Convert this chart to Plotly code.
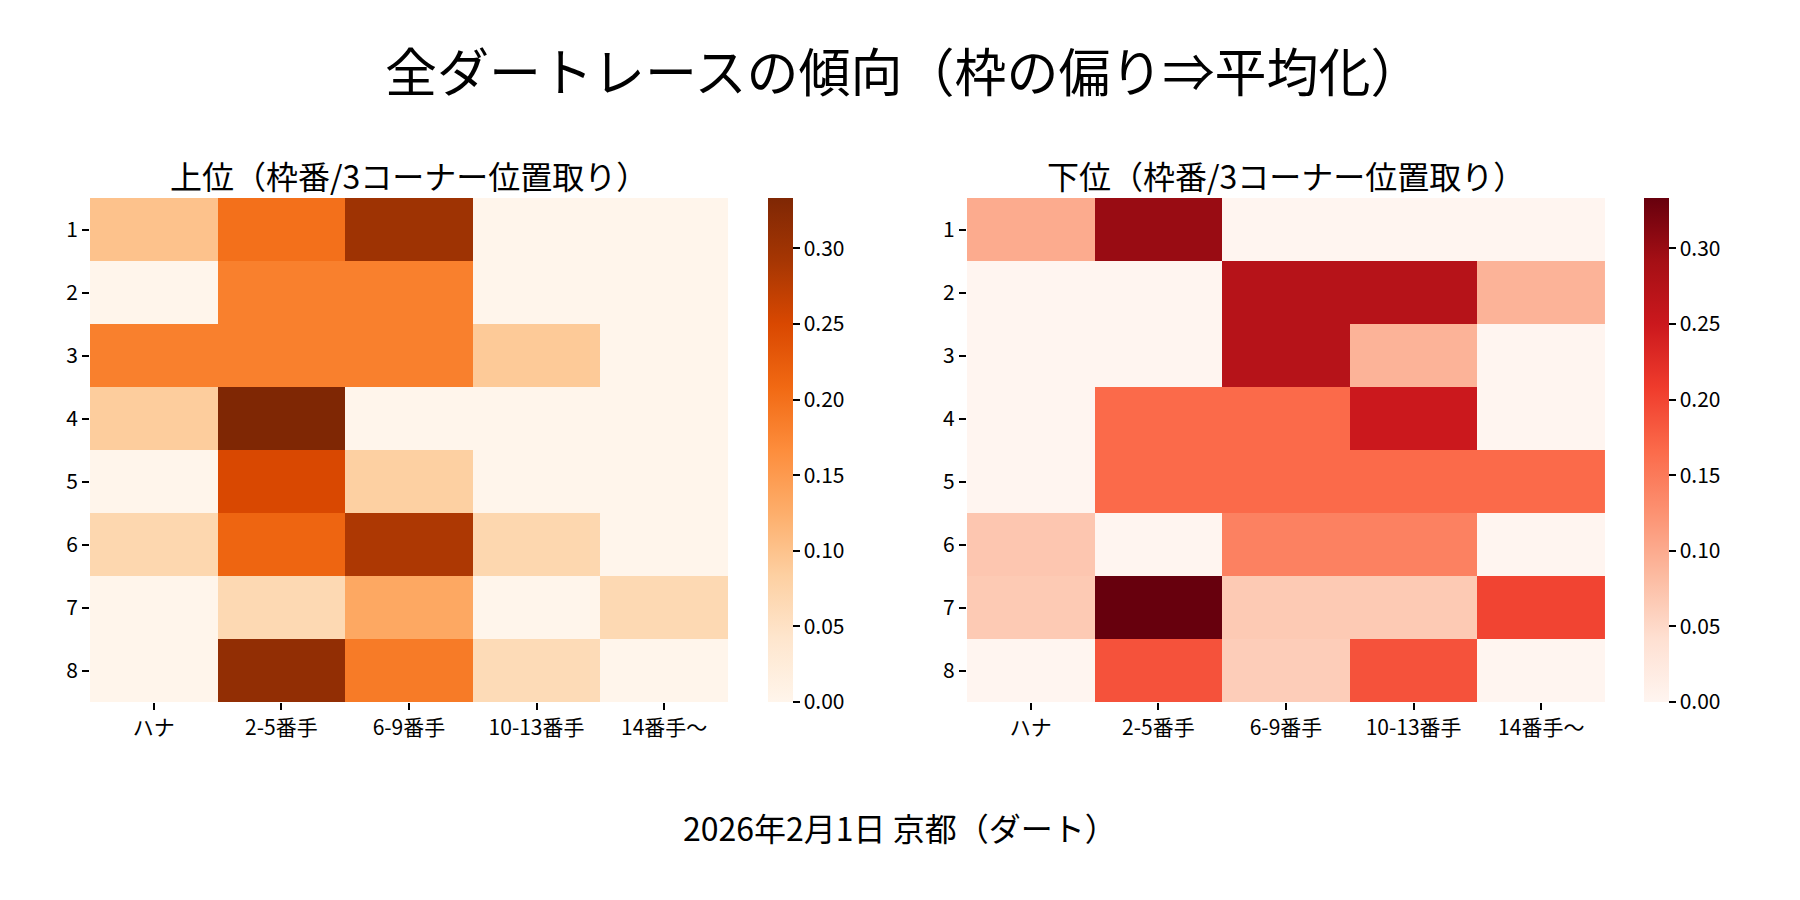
import plotly.graph_objects as go
import plotly.express as px

# categories
positions = ['ハナ', '2-5番手', '6-9番手', '10-13番手', '14番手〜']
gates = [1, 2, 3, 4, 5, 6, 7, 8]

# 上位 (rows = 枠 1..8, cols = 3コーナー位置)
top_vals = [
    [0.100, 0.200, 0.300, 0.000, 0.000],
    [0.000, 0.182, 0.182, 0.000, 0.000],
    [0.182, 0.182, 0.182, 0.091, 0.000],
    [0.087, 0.333, 0.000, 0.000, 0.000],
    [0.000, 0.250, 0.083, 0.000, 0.000],
    [0.071, 0.214, 0.286, 0.071, 0.000],
    [0.000, 0.067, 0.133, 0.000, 0.067],
    [0.000, 0.313, 0.188, 0.063, 0.000],
]

# 下位
bottom_vals = [
    [0.100, 0.300, 0.000, 0.000, 0.000],
    [0.000, 0.000, 0.273, 0.273, 0.091],
    [0.000, 0.000, 0.273, 0.091, 0.000],
    [0.000, 0.167, 0.167, 0.250, 0.000],
    [0.000, 0.167, 0.167, 0.167, 0.167],
    [0.071, 0.000, 0.143, 0.143, 0.000],
    [0.067, 0.333, 0.067, 0.067, 0.200],
    [0.000, 0.188, 0.063, 0.188, 0.000],
]

cbar_ticks = [0.0, 0.05, 0.10, 0.15, 0.20, 0.25, 0.30]
zmax = 1 / 3

FONT = "Noto Sans CJK JP"

fig = go.Figure()


def cbar(x):
    return dict(
        x=x, xanchor='left', y=0.5, yanchor='middle',
        len=504, lenmode='pixels', thickness=25,
        outlinewidth=0, xpad=0, ypad=0,
        tickvals=cbar_ticks, tickformat='.2f',
        ticks='outside', ticklen=7, tickwidth=1.6, tickcolor='black',
        tickfont=dict(size=21, color='black', family=FONT),
    )


fig.add_trace(go.Heatmap(
    z=top_vals, x=positions, y=gates,
    colorscale=px.colors.sequential.Oranges, zmin=0, zmax=zmax,
    colorbar=cbar(0.4267), xaxis='x', yaxis='y',
    hovertemplate='枠%{y} %{x}: %{z:.3f}<extra></extra>',
))

fig.add_trace(go.Heatmap(
    z=bottom_vals, x=positions, y=gates,
    colorscale=px.colors.sequential.Reds, zmin=0, zmax=zmax,
    colorbar=cbar(0.9133), xaxis='x2', yaxis='y2',
    hovertemplate='枠%{y} %{x}: %{z:.3f}<extra></extra>',
))

axis_common = dict(
    showgrid=False, zeroline=False, showline=False, automargin=False,
    ticks='outside', ticklen=7, tickwidth=1.6, tickcolor='black',
    tickfont=dict(size=21, color='black', family=FONT),
)


def label(text, x, y_px, size):
    return dict(text=text, x=x, y=1 - y_px / 900, xref='paper', yref='paper',
                xanchor='center', yanchor='middle', showarrow=False,
                font=dict(size=size, family=FONT, color='black'))


fig.update_layout(
    width=1800, height=900,
    margin=dict(l=0, r=0, t=0, b=0),
    paper_bgcolor='white', plot_bgcolor='white',
    font=dict(family=FONT, color='black'),
    xaxis=dict(domain=[0.05, 0.4044], anchor='y', **axis_common),
    yaxis=dict(domain=[0.22, 0.78], anchor='x', range=[8.5, 0.5],
               tickvals=gates, **axis_common),
    xaxis2=dict(domain=[0.5372, 0.8917], anchor='y2', **axis_common),
    yaxis2=dict(domain=[0.22, 0.78], anchor='x2', range=[8.5, 0.5],
                tickvals=gates, **axis_common),
    annotations=[
        label('全ダートレースの傾向（枠の偏り⇒平均化）', 0.502, 69, 52),
        label('上位（枠番/3コーナー位置取り）', (0.05 + 0.4044) / 2, 175, 32),
        label('下位（枠番/3コーナー位置取り）', (0.5372 + 0.8917) / 2, 175, 32),
        label('2026年2月1日 京都（ダート）', 0.5, 827, 32),
    ],
)

fig.write_html("out.html", config={'displayModeBar': False},
               post_script="document.body.style.margin='0';")
